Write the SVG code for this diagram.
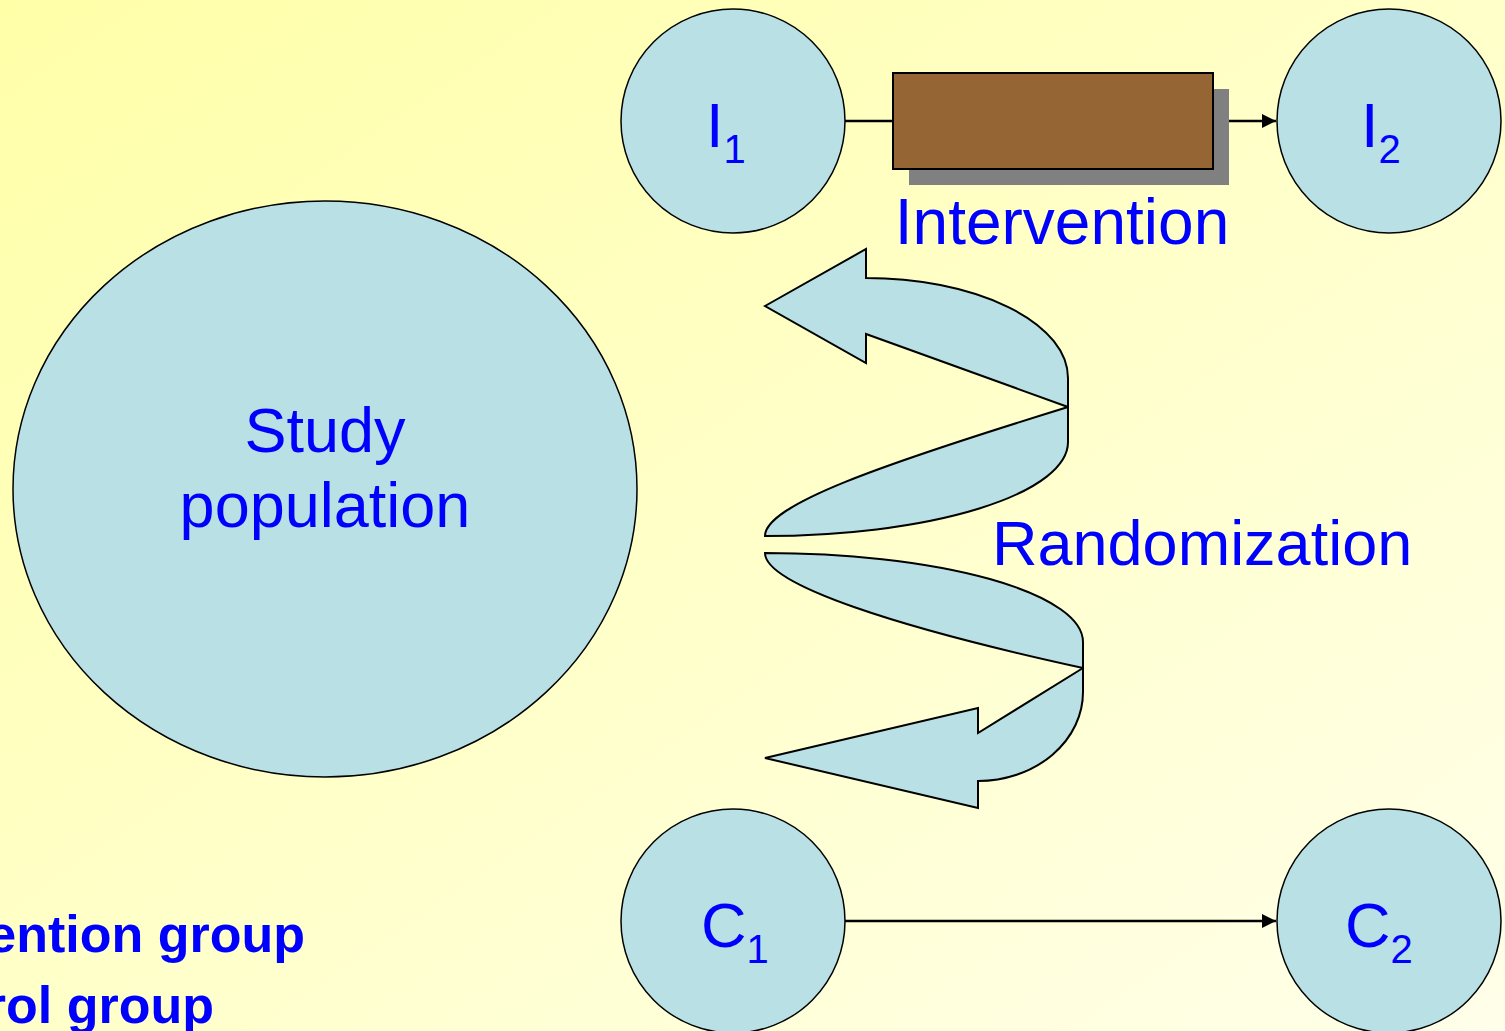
<svg xmlns="http://www.w3.org/2000/svg" width="1505" height="1031" viewBox="0 0 1505 1031">
<defs>
<linearGradient id="bg" x1="0" y1="0" x2="1" y2="1">
<stop offset="0" stop-color="#FFFFA8"/>
<stop offset="1" stop-color="#FFFFEA"/>
</linearGradient>
<marker id="ah" viewBox="0 0 10 10" refX="10" refY="5" markerWidth="5.5" markerHeight="5.5" orient="auto" markerUnits="strokeWidth">
<path d="M0,0 L10,5 L0,10 Z" fill="#000"/>
</marker>
<style>
.node{fill:#B9E0E4;stroke:#000;stroke-width:1.5}
.lbl{font-family:"Liberation Sans",Arial,sans-serif;fill:#0000FF}
.big{font-size:63px}
.sub{font-size:40px}
.bold{font-family:"Liberation Sans",Arial,sans-serif;font-weight:bold;font-size:52px;fill:#0000FF}
.conn{stroke:#000;stroke-width:2.6;fill:none}
.arr{fill:#B9E0E4;stroke:#000;stroke-width:2;stroke-linejoin:miter}
</style>
</defs>
<rect width="1505" height="1031" fill="url(#bg)"/>

<g id="study">
<ellipse class="node" cx="325" cy="489" rx="312" ry="288"/>
<text class="lbl big" x="325" y="452" text-anchor="middle">Study</text>
<text class="lbl big" x="325" y="527" text-anchor="middle">population</text>
</g>

<g id="I1">
<circle class="node" cx="733" cy="121" r="112"/>
<text class="lbl big" x="706" y="147">I<tspan class="sub" dy="16">1</tspan></text>
</g>
<g id="I2">
<circle class="node" cx="1389" cy="121" r="112"/>
<text class="lbl big" x="1361" y="147">I<tspan class="sub" dy="16">2</tspan></text>
</g>
<g id="C1">
<circle class="node" cx="733" cy="921" r="112"/>
<text class="lbl big" x="701" y="947">C<tspan class="sub" dy="16">1</tspan></text>
</g>
<g id="C2">
<circle class="node" cx="1389" cy="921" r="112"/>
<text class="lbl big" x="1345" y="947">C<tspan class="sub" dy="16">2</tspan></text>
</g>

<g id="intervention">
<rect x="909" y="89" width="320" height="96" fill="#808080"/>
<rect x="893" y="73" width="320" height="96" fill="#966534" stroke="#000" stroke-width="2"/>
<text class="lbl" font-size="64" x="1062" y="244" text-anchor="middle">Intervention</text>
</g>

<g id="randomization">
<path class="arr" d="M1068,407 L1068,442 A303,94 0 0 1 765,536 C765,505 880,465 1068,407 Z"/>
<path class="arr" d="M765,306 L866,249 L866,278 A202,100 0 0 1 1068,378 L1068,407 L866,334 L866,363 Z"/>
<path class="arr" d="M765,553 A318,89 0 0 1 1083,642 L1083,668 C900,628 765,585 765,553 Z"/>
<path class="arr" d="M1083,668 L978,733 L978,708 L765,758 L978,808 L978,781 A105,89 0 0 0 1083,692 Z"/>
<text class="lbl big" x="992" y="565">Randomization</text>
</g>

<g id="legend">
<text class="bold" x="305" y="952" text-anchor="end">ention group</text>
<text class="bold" x="214" y="1023" text-anchor="end">rol group</text>
</g>

<g id="connectors">
<line class="conn" x1="845" y1="121" x2="893" y2="121"/>
<line class="conn" x1="1229" y1="121" x2="1276" y2="121" marker-end="url(#ah)"/>
<line class="conn" x1="845" y1="921" x2="1276" y2="921" marker-end="url(#ah)"/>
</g>
</svg>
